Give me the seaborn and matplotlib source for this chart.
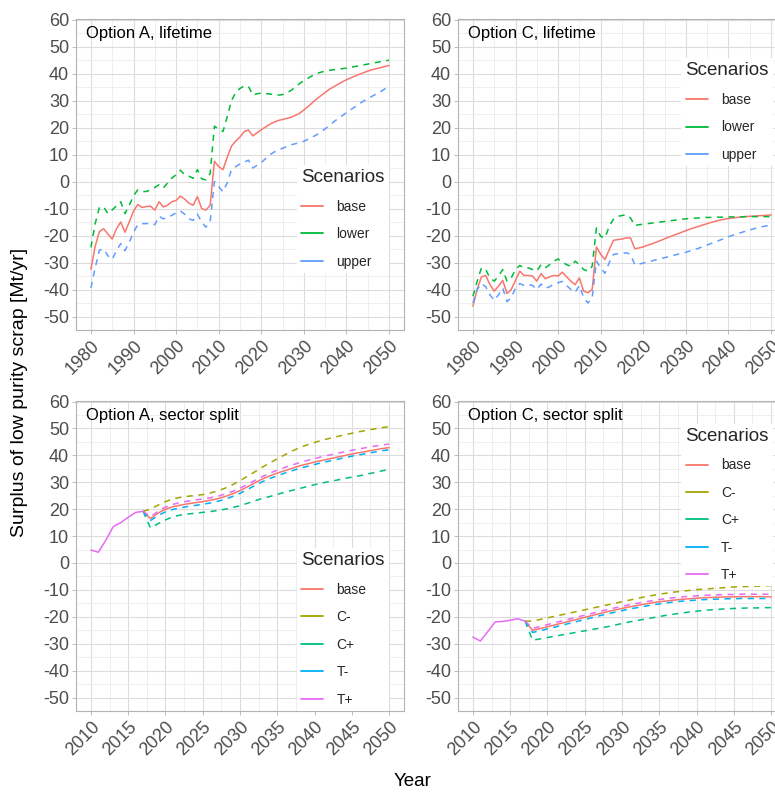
import matplotlib
matplotlib.use("Agg")
import matplotlib.pyplot as plt
from matplotlib.lines import Line2D
from matplotlib.ticker import MultipleLocator
import numpy as np
import pandas as pd
import seaborn as sns

# ---------------------------------------------------------------------------
# Lifetime scenarios, 1980-2050 (Mt/yr)
# ---------------------------------------------------------------------------
life_years = list(range(1980, 2051))

a_life_base = [
    -32.5, -24.0, -18.5, -17.5, -19.5, -21.3, -17.5, -15.0, -18.8, -15.0,
    -11.0, -8.5, -9.6, -9.3, -9.1, -10.6, -7.5, -9.4, -8.8, -7.5,
    -7.0, -5.4, -6.5, -8.0, -8.8, -5.6, -10.0, -10.6, -8.8, 7.5,
    5.5, 4.4, 9.0, 13.1, 15.0, 16.5, 18.5, 19.1, 16.9, 18.0,
    19.2, 20.2, 21.2, 22.0, 22.6, 23.0, 23.4, 23.8, 24.5, 25.3,
    26.5, 27.8, 29.2, 30.6, 31.8, 33.0, 34.2, 35.1, 36.0, 36.9,
    37.7, 38.4, 39.1, 39.7, 40.3, 40.9, 41.4, 41.8, 42.2, 42.6,
    43.0,
]
a_life_lower = [
    -24.4, -15.6, -9.6, -9.4, -11.9, -10.5, -9.0, -7.5, -11.9, -8.8,
    -5.3, -3.1, -3.7, -3.7, -3.1, -2.2, -1.2, -2.4, -0.5, 1.3,
    2.5, 4.2, 2.5, 2.0, 1.2, 4.4, 1.0, 0.6, 3.0, 20.5,
    19.4, 18.5, 24.0, 30.0, 33.0, 34.5, 35.4, 35.2, 32.0, 32.5,
    32.8, 32.6, 32.4, 32.2, 32.0, 32.2, 32.8, 33.8, 35.0, 36.3,
    37.4, 38.3, 39.2, 40.0, 40.5, 40.9, 41.2, 41.4, 41.6, 41.8,
    42.0, 42.3, 42.6, 42.9, 43.2, 43.5, 43.8, 44.1, 44.4, 44.7,
    44.9,
]
a_life_upper = [
    -39.4, -32.0, -25.4, -25.0, -27.5, -28.8, -25.6, -23.0, -25.6, -22.5,
    -18.8, -16.0, -15.6, -15.6, -15.4, -16.0, -12.9, -13.8, -13.5, -12.5,
    -11.6, -10.9, -12.1, -13.8, -14.4, -12.1, -15.0, -16.9, -14.8, 0.0,
    -1.9, -3.8, -0.5, 4.4, 5.5, 6.5, 7.2, 7.9, 5.0, 6.0,
    7.0, 8.5, 9.9, 10.9, 11.7, 12.3, 13.0, 13.6, 14.0, 14.4,
    14.9, 15.7, 16.5, 17.3, 18.5, 19.5, 20.8, 22.1, 23.3, 24.4,
    25.5, 26.6, 27.7, 28.8, 29.8, 30.7, 31.6, 32.4, 33.3, 34.3,
    35.3,
]

c_life_base = [
    -46.2, -40.0, -35.3, -34.8, -38.2, -40.6, -38.8, -36.6, -41.5, -40.0,
    -36.6, -33.2, -34.8, -34.8, -35.0, -36.9, -34.1, -36.0, -35.3, -34.8,
    -35.0, -33.6, -35.3, -36.9, -38.2, -35.7, -40.6, -41.2, -40.0, -24.2,
    -27.0, -28.9, -25.2, -21.8, -21.5, -21.3, -20.9, -20.9, -24.9, -24.6,
    -24.2, -23.6, -23.1, -22.5, -21.9, -21.2, -20.6, -20.0, -19.4, -18.8,
    -18.2, -17.6, -17.1, -16.6, -16.1, -15.6, -15.1, -14.7, -14.3, -14.0,
    -13.7, -13.5, -13.3, -13.1, -13.0, -12.9, -12.8, -12.7, -12.6, -12.5,
    -12.4,
]
c_life_lower = [
    -42.5, -37.0, -32.0, -32.6, -35.7, -36.9, -35.0, -32.6, -36.9, -35.7,
    -32.6, -31.1, -32.0, -32.0, -32.6, -33.2, -30.8, -32.0, -30.8, -29.5,
    -28.7, -29.9, -30.8, -31.4, -29.5, -30.8, -32.6, -33.2, -31.4, -17.2,
    -20.3, -20.9, -16.6, -13.9, -12.9, -12.6, -12.3, -13.5, -16.3, -16.0,
    -15.8, -15.6, -15.4, -15.2, -15.0, -14.8, -14.6, -14.4, -14.2, -14.0,
    -13.8, -13.7, -13.6, -13.5, -13.4, -13.3, -13.3, -13.2, -13.2, -13.2,
    -13.1, -13.1, -13.1, -13.1, -13.0, -13.0, -13.0, -13.0, -13.0, -13.0,
    -13.0,
]
c_life_upper = [
    -45.0, -40.0, -37.8, -39.0, -42.0, -44.0, -42.0, -39.5, -44.5, -43.0,
    -39.5, -37.8, -38.5, -38.2, -38.5, -40.0, -38.0, -39.5, -39.0, -38.0,
    -37.5, -37.0, -38.5, -40.0, -41.0, -38.5, -43.0, -45.0, -43.0, -29.5,
    -32.0, -34.0, -30.0, -27.0, -26.8, -26.6, -26.4, -27.0, -30.8, -30.6,
    -30.2, -29.8, -29.4, -29.0, -28.6, -28.2, -27.8, -27.4, -27.0, -26.6,
    -26.2, -25.7, -25.2, -24.7, -24.1, -23.5, -22.9, -22.3, -21.7, -21.1,
    -20.5, -19.9, -19.4, -18.9, -18.4, -17.9, -17.5, -17.1, -16.7, -16.4,
    -16.1,
]

# ---------------------------------------------------------------------------
# Sector-split scenarios: shared history 2010-2017, projections 2018-2050
# ---------------------------------------------------------------------------
hist_years = list(range(2010, 2018))
proj_years = list(range(2018, 2051))

a_hist = [4.8, 4.0, 8.5, 13.5, 15.0, 17.0, 18.8, 19.2]
a_base = [16.5, 18.5, 20.0, 20.9, 21.5, 22.0, 22.4, 22.8, 23.3, 23.9,
          24.7, 25.7, 26.9, 28.3, 29.8, 31.2, 32.4, 33.4, 34.3, 35.2,
          36.1, 36.8, 37.5, 38.1, 38.7, 39.3, 39.9, 40.5, 41.0, 41.5,
          42.0, 42.5, 42.9]
a_c_minus = [20.0, 21.5, 22.8, 23.8, 24.4, 24.8, 25.1, 25.4, 26.0, 26.8,
             27.8, 29.1, 30.6, 32.2, 33.9, 35.6, 37.2, 38.7, 40.2, 41.6,
             42.9, 43.9, 44.8, 45.6, 46.3, 47.0, 47.6, 48.2, 48.8, 49.3,
             49.8, 50.3, 50.7]
a_c_plus = [13.0, 14.6, 16.0, 17.2, 17.8, 18.2, 18.5, 18.8, 19.1, 19.5,
            20.0, 20.6, 21.3, 22.2, 23.1, 24.0, 24.7, 25.5, 26.3, 27.0,
            27.7, 28.4, 29.1, 29.7, 30.3, 30.8, 31.4, 31.9, 32.4, 33.0,
            33.6, 34.2, 34.8]
a_t_minus = [15.8, 17.6, 19.0, 19.9, 20.5, 21.0, 21.4, 21.8, 22.3, 22.9,
             23.7, 24.7, 25.9, 27.3, 28.8, 30.2, 31.4, 32.4, 33.4, 34.3,
             35.2, 35.9, 36.6, 37.3, 37.9, 38.5, 39.1, 39.7, 40.2, 40.7,
             41.2, 41.7, 42.1]
a_t_plus = [17.2, 19.2, 20.8, 21.8, 22.5, 23.0, 23.4, 23.8, 24.2, 24.8,
            25.6, 26.6, 27.8, 29.2, 30.7, 32.1, 33.4, 34.5, 35.5, 36.4,
            37.3, 38.1, 38.8, 39.5, 40.1, 40.7, 41.3, 41.9, 42.4, 42.9,
            43.4, 43.8, 44.2]

c_hist = [-27.5, -29.0, -25.5, -21.9, -21.7, -21.3, -20.7, -21.6]
c_base = [-25.0, -24.4, -23.7, -23.0, -22.3, -21.6, -20.9, -20.2, -19.5, -18.8,
          -18.1, -17.5, -16.9, -16.3, -15.8, -15.3, -14.8, -14.4, -14.1, -13.8,
          -13.5, -13.3, -13.1, -12.9, -12.8, -12.7, -12.6, -12.6, -12.5, -12.5,
          -12.5, -12.5, -12.6]
c_c_minus = [-21.6, -21.0, -20.4, -19.8, -19.2, -18.6, -18.0, -17.4, -16.8, -16.2,
             -15.6, -15.0, -14.4, -13.8, -13.2, -12.6, -12.1, -11.6, -11.2, -10.8,
             -10.5, -10.2, -9.9, -9.7, -9.5, -9.3, -9.1, -8.9, -8.8, -8.7,
             -8.6, -8.5, -8.4]
c_c_plus = [-28.7, -28.2, -27.7, -27.2, -26.7, -26.2, -25.7, -25.2, -24.7, -24.2,
            -23.7, -23.1, -22.5, -21.9, -21.4, -20.9, -20.4, -19.9, -19.4, -19.0,
            -18.6, -18.2, -17.9, -17.6, -17.4, -17.2, -17.0, -16.9, -16.8, -16.7,
            -16.7, -16.6, -16.6]
c_t_minus = [-25.8, -25.2, -24.5, -23.8, -23.1, -22.4, -21.7, -21.0, -20.3, -19.6,
             -18.9, -18.3, -17.7, -17.1, -16.6, -16.1, -15.6, -15.2, -14.8, -14.5,
             -14.2, -14.0, -13.8, -13.6, -13.5, -13.4, -13.3, -13.3, -13.2, -13.2,
             -13.2, -13.2, -13.3]
c_t_plus = [-24.3, -23.6, -22.9, -22.2, -21.5, -20.8, -20.1, -19.4, -18.7, -18.0,
            -17.3, -16.7, -16.1, -15.5, -15.0, -14.5, -14.0, -13.6, -13.2, -12.9,
            -12.6, -12.4, -12.2, -12.0, -11.9, -11.8, -11.7, -11.7, -11.6, -11.6,
            -11.6, -11.6, -11.6]

life_labels = ["base", "lower", "upper"]
life_colors = ["#F8766D", "#00BA38", "#619CFF"]
split_labels = ["base", "C-", "C+", "T-", "T+"]
split_colors = ["#F8766D", "#A3A500", "#00BF7D", "#00B0F6", "#E76BF3"]

# ---------------------------------------------------------------------------
sns.set_theme(style="whitegrid")
plt.rcParams["font.family"] = ["Liberation Sans", "DejaVu Sans"]
plt.rcParams["axes.unicode_minus"] = False

LW = 1.1
DASH = (0, (4.0, 3.6))
GRID_MAJOR = "#DCDCDC"
GRID_MINOR = "#EDEDED"

W, H = 775, 792
fig = plt.figure(figsize=(W / 100, H / 100), dpi=100)


def rect(x0, y0, x1, y1):
    return [x0 / W, 1 - y1 / H, (x1 - x0) / W, (y1 - y0) / H]


ax_tl = fig.add_axes(rect(76, 19, 404, 330))
ax_tr = fig.add_axes(rect(458, 19, 786, 330))
ax_bl = fig.add_axes(rect(76, 401, 404, 711))
ax_br = fig.add_axes(rect(458, 401, 786, 711))


def style_axes(ax, x0, x1, major, minor):
    pad = (x1 - x0) * 0.05
    ax.set_xlim(x0 - pad, x1 + pad)
    ax.set_ylim(-55, 60.2)
    ax.set_xticks(np.arange(x0, x1 + 1, major),
                  labels=[str(v) for v in range(x0, x1 + 1, major)],
                  rotation=45, ha="right", va="top", rotation_mode="anchor")
    ax.xaxis.set_minor_locator(MultipleLocator(minor))
    ax.yaxis.set_major_locator(MultipleLocator(10))
    ax.yaxis.set_minor_locator(MultipleLocator(5))
    ax.grid(which="major", color=GRID_MAJOR, linewidth=0.8)
    ax.grid(which="minor", color=GRID_MINOR, linewidth=0.6)
    ax.set_axisbelow(True)
    ax.set_facecolor("white")
    for s in ax.spines.values():
        s.set_visible(True)
        s.set_color("#B3B3B3")
        s.set_linewidth(0.8)
    ax.tick_params(which="major", length=3, width=0.6, color="#B3B3B3",
                   labelsize=13, labelcolor="#4D4D4D", pad=2,
                   bottom=True, left=True)
    ax.tick_params(which="minor", length=0)
    ax.set_xlabel("")
    ax.set_ylabel("")


def draw(ax, x, y, color, dashed):
    kw = dict(linestyle=DASH) if dashed else {}
    sns.lineplot(x=x, y=y, color=color, linewidth=LW, ax=ax,
                 legend=False, sort=False, **kw)


def add_legend(ax, labels, colors, ax_x, ax_y):
    handles = [Line2D([], [], color=c, linewidth=1.3) for c in colors]
    leg = ax.legend(handles, labels, title="Scenarios", loc="upper left",
                    bbox_to_anchor=(ax_x, ax_y), fontsize=10,
                    title_fontsize=13.5, frameon=True, facecolor="white",
                    edgecolor="none", framealpha=1.0, fancybox=False,
                    borderpad=0.3, handlelength=1.6, handletextpad=0.95,
                    labelspacing=0.97, alignment="left")
    leg.get_frame().set_linewidth(0)


def panel_title(ax, text):
    ax.text(0.03, 0.977, text, transform=ax.transAxes, ha="left", va="top",
            fontsize=12, color="black")


# Lifetime panels
for ax, series, title in [
    (ax_tl, [a_life_base, a_life_lower, a_life_upper], "Option A, lifetime"),
    (ax_tr, [c_life_base, c_life_lower, c_life_upper], "Option C, lifetime"),
]:
    for vals, color, lab in zip(series, life_colors, life_labels):
        draw(ax, life_years, vals, color, lab != "base")
    style_axes(ax, 1980, 2050, 10, 5)
    panel_title(ax, title)

# Sector-split panels: projections first, shared history on top (last colour wins)
for ax, hist, series, title in [
    (ax_bl, a_hist, [a_base, a_c_minus, a_c_plus, a_t_minus, a_t_plus],
     "Option A, sector split"),
    (ax_br, c_hist, [c_base, c_c_minus, c_c_plus, c_t_minus, c_t_plus],
     "Option C, sector split"),
]:
    for vals, color, lab in zip(series, split_colors, split_labels):
        draw(ax, hist_years[-1:] + proj_years, hist[-1:] + vals, color,
             lab != "base")
    draw(ax, hist_years, hist, split_colors[-1], False)
    style_axes(ax, 2010, 2050, 5, 2.5)
    panel_title(ax, title)

add_legend(ax_tl, life_labels, life_colors, 0.652, 0.553)
add_legend(ax_tr, life_labels, life_colors, 0.66, 0.896)
add_legend(ax_bl, split_labels, split_colors, 0.652, 0.548)
add_legend(ax_br, split_labels, split_colors, 0.66, 0.949)

fig.text(20 / W, 1 - 392 / H, "Surplus of low purity scrap [Mt/yr]",
         rotation=90, ha="center", va="center", fontsize=14, color="black")
fig.text(413 / W, 1 - 782 / H, "Year", ha="center", va="center",
         fontsize=13.5, color="black")

fig.savefig("out.png", dpi=100, facecolor="white")
